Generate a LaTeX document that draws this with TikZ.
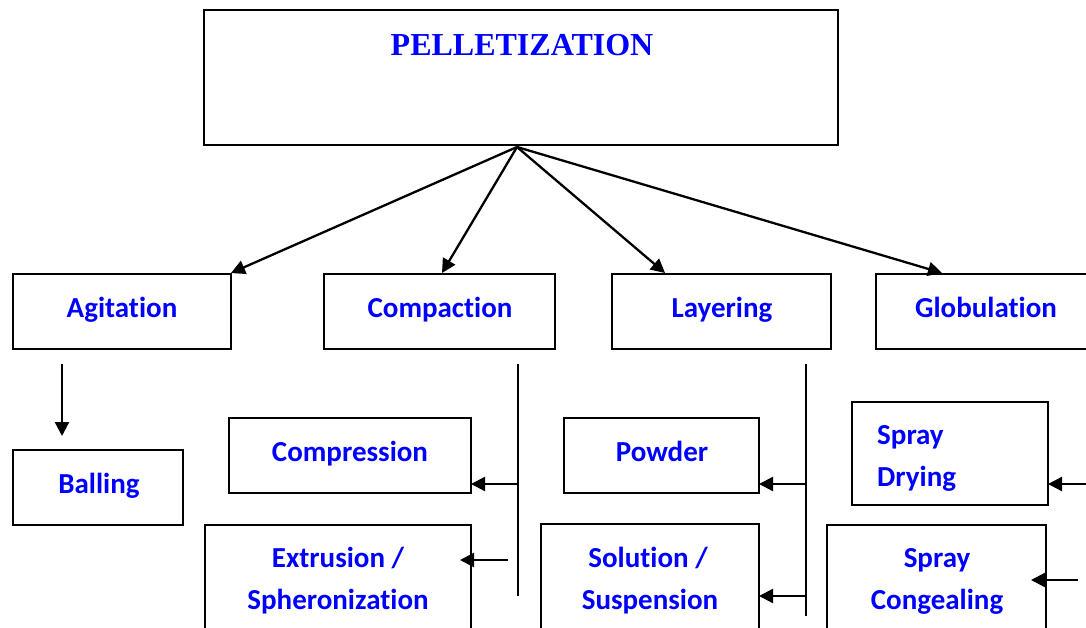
\documentclass[tikz,border=0pt]{standalone}
\usepackage{fontspec}
\setmainfont{Carlito}[RawFeature={-liga;-clig;-calt;-dlig}]
\newfontfamily\timesfam{Liberation Serif}
\usetikzlibrary{arrows.meta,fit}
\definecolor{txtblue}{RGB}{0,0,255}
\begin{document}
\begin{tikzpicture}[x=1pt,y=-1pt,
  box/.style={draw,line width=2.8pt,inner sep=0pt},
  lbl/.style={text=txtblue,font=\fontsize{29}{35}\selectfont\bfseries,anchor=base,inner sep=0pt},
  ttl/.style={text=txtblue,font=\timesfam\fontsize{32}{38}\selectfont\bfseries,anchor=base,inner sep=0pt},
  conn/.style={line width=2.3pt,-{Triangle[length=14pt,width=14pt]}},
  bar/.style={line width=2.3pt}]
\useasboundingbox (0,0) rectangle (1086,627);
\clip (0,0) rectangle (1086,627);
% boxes
\node[box,fit={(204,10)(838,145)}] (pel) {};
\node[box,fit={(13,274)(231,349)}] (agi) {};
\node[box,fit={(324,274)(555,349)}] (cpa) {};
\node[box,fit={(612,274)(831,349)}] (lay) {};
\node[box,fit={(876,274)(1100,349)}] (glo) {};
\node[box,fit={(13,450)(183,525)}] (bal) {};
\node[box,fit={(229,418)(471,493)}] (cps) {};
\node[box,fit={(205,525)(471,660)}] (ext) {};
\node[box,fit={(564,418)(759,493)}] (pow) {};
\node[box,fit={(541,524)(759,660)}] (sol) {};
\node[box,fit={(852,402)(1048,505)}] (spd) {};
\node[box,fit={(827,525)(1046,660)}] (spc) {};
% texts
\node[ttl] (tpel) at (522,55) {PELLETIZATION};
\node[lbl] (tagi) at (122,317) {Agitation};
\node[lbl] (tcpa) at (440,317) {Compaction};
\node[lbl] (tlay) at (722,317) {Layering};
\node[lbl] (tglo) at (986,317) {Globulation};
\node[lbl] (tbal) at (99,493) {Balling};
\node[lbl] (tcps) at (350,461) {Compression};
\node[lbl] (text1) at (338,567) {Extrusion /};
\node[lbl] (text2) at (338,609) {Spheronization};
\node[lbl] (tpow) at (662,461) {Powder};
\node[lbl] (tsol1) at (648,567) {Solution /};
\node[lbl] (tsol2) at (650,609) {Suspension};
\node[lbl,anchor=base west] (tspd1) at (877,444) {Spray};
\node[lbl,anchor=base west] (tspd2) at (877,486) {Drying};
\node[lbl] (tspc1) at (937,567) {Spray};
\node[lbl] (tspc2) at (937,609) {Congealing};
% connector coordinates
\coordinate (src) at (517,147);
\coordinate (agiT) at (231,273);
\coordinate (cpaT) at (442,273);
\coordinate (layT) at (665,273);
\coordinate (gloT) at (942,273);
\draw[conn] (src) -- (agiT);
\draw[conn] (src) -- (cpaT);
\draw[conn] (src) -- (layT);
\draw[conn] (src) -- (gloT);
% agitation -> balling
\coordinate (a1) at (62,364);
\coordinate (a2) at (62,436);
\draw[conn] (a1) -- (a2);
% compaction bar
\coordinate (cb1) at (518,364);
\coordinate (cb2) at (518,596);
\draw[bar] (cb1) -- (cb2);
\coordinate (cbA) at (518,484);
\coordinate (cpsE) at (471,484);
\draw[conn] (cbA) -- (cpsE);
\coordinate (exS) at (508,560);
\coordinate (exE) at (460,560);
\draw[conn] (exS) -- (exE);
% layering bar
\coordinate (lb1) at (806,364);
\coordinate (lb2) at (806,616);
\draw[bar] (lb1) -- (lb2);
\coordinate (lbA) at (806,484);
\coordinate (powE) at (759,484);
\draw[conn] (lbA) -- (powE);
\coordinate (lbB) at (806,596);
\coordinate (solE) at (759,596);
\draw[conn] (lbB) -- (solE);
% globulation side arrows
\coordinate (gA) at (1090,484);
\coordinate (spdE) at (1048,484);
\draw[conn] (gA) -- (spdE);
\coordinate (gB) at (1078,580);
\coordinate (spcE) at (1031,580);
\draw[conn] (gB) -- (spcE);
\end{tikzpicture}
\end{document}
